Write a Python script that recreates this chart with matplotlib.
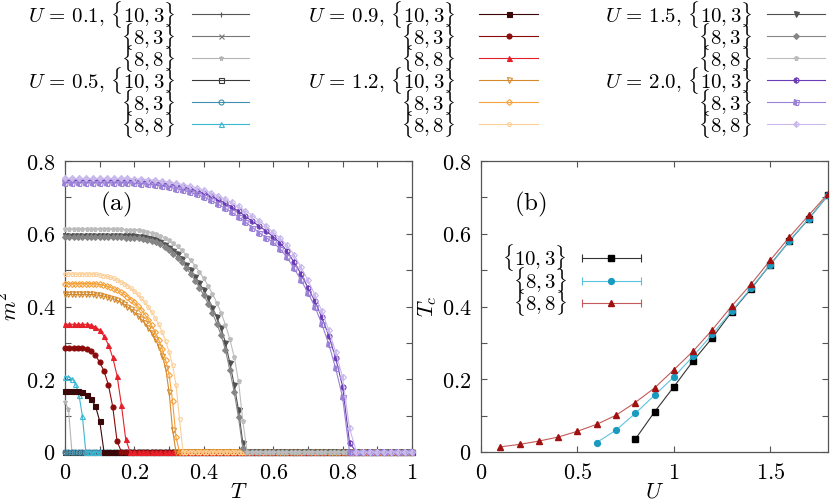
import numpy as np
import matplotlib
matplotlib.use("Agg")
import matplotlib.pyplot as plt
from matplotlib.lines import Line2D
from matplotlib.ticker import MultipleLocator, FuncFormatter

plt.rcParams["mathtext.fontset"] = "cm"
plt.rcParams["font.family"] = "serif"
plt.rcParams["font.serif"] = ["DejaVu Serif"]

# =========================
# Panel (a): m^2 vs T
# non-zero head of every curve, the rest is m^2 = 0 up to T = 1
# =========================
t_step_u01 = 0.01
t_step_u05 = 0.01
t_step_u09 = 0.0125
t_step_u12 = 0.01
t_step_u15 = 0.0125
t_step_u20 = 0.02

m2_u01_103 = []
m2_u01_83 = []
m2_u01_88 = [0.138, 0.117]

m2_u05_103 = []
m2_u05_83 = []
m2_u05_88 = [0.207, 0.206, 0.202, 0.188, 0.158, 0.100]

m2_u09_103 = [0.168, 0.168, 0.168, 0.167, 0.165, 0.157, 0.145, 0.127, 0.085]
m2_u09_83 = [0.285] * 5 + [0.283, 0.277, 0.266, 0.247, 0.222, 0.185, 0.125, 0.030]
m2_u09_88 = [0.351] * 6 + [0.349, 0.344, 0.335, 0.318, 0.295, 0.260, 0.210, 0.130, 0.035]

m2_u12_103 = [0.433] * 9 + [0.432, 0.431, 0.429, 0.427, 0.424, 0.421, 0.417, 0.412, 0.406,
                            0.399, 0.392, 0.384, 0.375, 0.365, 0.354, 0.341, 0.327, 0.311,
                            0.290, 0.265, 0.230, 0.165, 0.060]
m2_u12_83 = [0.463] * 9 + [0.462, 0.461, 0.459, 0.456, 0.453, 0.449, 0.445, 0.440, 0.434,
                           0.427, 0.419, 0.411, 0.401, 0.390, 0.378, 0.364, 0.348, 0.330,
                           0.309, 0.284, 0.253, 0.212, 0.140, 0.040]
m2_u12_88 = [0.489] * 9 + [0.488, 0.487, 0.485, 0.483, 0.480, 0.477, 0.473, 0.468, 0.463,
                           0.457, 0.450, 0.442, 0.433, 0.423, 0.412, 0.399, 0.385, 0.369,
                           0.351, 0.330, 0.305, 0.275, 0.238, 0.185, 0.090]

m2_u15_103 = [0.595] * 14 + [0.594, 0.594, 0.593, 0.592, 0.590, 0.588, 0.585, 0.582, 0.577,
                             0.570, 0.562, 0.553, 0.543, 0.530, 0.515, 0.499, 0.482, 0.464,
                             0.445, 0.422, 0.397, 0.370, 0.340, 0.300, 0.245, 0.185, 0.115,
                             0.025]
m2_u15_83 = [0.590] * 14 + [0.589, 0.589, 0.588, 0.587, 0.585, 0.583, 0.580, 0.576, 0.571,
                            0.564, 0.555, 0.545, 0.534, 0.521, 0.506, 0.489, 0.471, 0.452,
                            0.431, 0.408, 0.382, 0.353, 0.321, 0.280, 0.225, 0.165, 0.095,
                            0.010]
m2_u15_88 = [0.612] * 14 + [0.611, 0.611, 0.610, 0.609, 0.607, 0.605, 0.602, 0.599, 0.595,
                            0.589, 0.582, 0.574, 0.565, 0.554, 0.541, 0.527, 0.512, 0.495,
                            0.477, 0.457, 0.435, 0.410, 0.382, 0.350, 0.310, 0.262, 0.195,
                            0.085]

m2_u20_103 = [0.747] * 10 + [0.746, 0.745, 0.743, 0.741, 0.739, 0.736, 0.733, 0.729, 0.724,
                             0.718, 0.712, 0.704, 0.695, 0.685, 0.674, 0.662, 0.648, 0.634,
                             0.621, 0.607, 0.592, 0.575, 0.552, 0.522, 0.490, 0.452, 0.415,
                             0.370, 0.320, 0.258, 0.180, 0.025]
m2_u20_83 = [0.740] * 10 + [0.739, 0.738, 0.736, 0.734, 0.731, 0.728, 0.724, 0.720, 0.714,
                            0.708, 0.701, 0.692, 0.682, 0.671, 0.659, 0.646, 0.632, 0.617,
                            0.603, 0.589, 0.576, 0.558, 0.535, 0.505, 0.473, 0.438, 0.400,
                            0.352, 0.297, 0.230, 0.150]
m2_u20_88 = [0.752] * 10 + [0.751, 0.750, 0.749, 0.747, 0.745, 0.742, 0.739, 0.735, 0.731,
                            0.726, 0.720, 0.713, 0.705, 0.696, 0.686, 0.675, 0.663, 0.650,
                            0.636, 0.621, 0.604, 0.588, 0.568, 0.542, 0.508, 0.473, 0.432,
                            0.388, 0.335, 0.275, 0.205, 0.065]

# =========================
# Panel (b): Tc vs U
# =========================
u_103 = [0.8, 0.9, 1.0, 1.1, 1.2, 1.3, 1.4, 1.5, 1.6, 1.7, 1.8]
tc_103 = [0.035, 0.110, 0.179, 0.250, 0.314, 0.385, 0.448, 0.515, 0.580, 0.641, 0.706]
u_83 = [0.6, 0.7, 0.8, 0.9, 1.0, 1.1, 1.2, 1.3, 1.4, 1.5, 1.6, 1.7, 1.8]
tc_83 = [0.026, 0.060, 0.106, 0.156, 0.206, 0.263, 0.324, 0.387, 0.450, 0.515, 0.580, 0.641, 0.706]
u_88 = [0.1, 0.2, 0.3, 0.4, 0.5, 0.6, 0.7, 0.8, 0.9, 1.0, 1.1, 1.2, 1.3, 1.4, 1.5, 1.6, 1.7, 1.8]
tc_88 = [0.014, 0.021, 0.030, 0.041, 0.057, 0.076, 0.101, 0.136, 0.176, 0.226, 0.277, 0.336,
         0.401, 0.461, 0.527, 0.591, 0.651, 0.710]

u_labels = ["0.1", "0.5", "0.9", "1.2", "1.5", "2.0"]
lattices = [r"\{10,3\}", r"\{8,3\}", r"\{8,8\}"]

# (step, data, color, marker, fill) per U / lattice
curves_a = [
    (t_step_u01, m2_u01_103, "#555555", "+", "full"),
    (t_step_u01, m2_u01_83, "#777777", "x", "full"),
    (t_step_u01, m2_u01_88, "#b5b5b5", "*", "full"),
    (t_step_u05, m2_u05_103, "#3a3a3a", "s", "none"),
    (t_step_u05, m2_u05_83, "#3f8fae", "o", "none"),
    (t_step_u05, m2_u05_88, "#3cb7d2", "^", "none"),
    (t_step_u09, m2_u09_103, "#3a0808", "s", "full"),
    (t_step_u09, m2_u09_83, "#8b0a0a", "o", "full"),
    (t_step_u09, m2_u09_88, "#e6202a", "^", "full"),
    (t_step_u12, m2_u12_103, "#d48a2c", "v", "none"),
    (t_step_u12, m2_u12_83, "#f5a23a", "D", "none"),
    (t_step_u12, m2_u12_88, "#fccf98", "p", "none"),
    (t_step_u15, m2_u15_103, "#505050", "v", "full"),
    (t_step_u15, m2_u15_83, "#858585", "D", "full"),
    (t_step_u15, m2_u15_88, "#bcbcbc", "p", "full"),
    (t_step_u20, m2_u20_103, "#6a3cb4", "o", "left"),
    (t_step_u20, m2_u20_83, "#9b80d8", "s", "left"),
    (t_step_u20, m2_u20_88, "#c9b9ec", "D", "left"),
]

FS = 16
FS_LEG = 15
SPINE = "#555555"


def mfmt(v, pos):
    return r"$%g$" % round(v, 3)


def style_axes(ax):
    for s in ax.spines.values():
        s.set_color(SPINE)
        s.set_linewidth(0.9)
    ax.tick_params(which="both", direction="in", top=True, right=True,
                   color=SPINE, width=0.8, labelsize=FS)
    ax.tick_params(axis="x", pad=7)
    ax.tick_params(axis="y", pad=7)
    ax.tick_params(which="major", length=4)
    ax.tick_params(which="minor", length=4)
    ax.xaxis.set_major_formatter(FuncFormatter(mfmt))
    ax.yaxis.set_major_formatter(FuncFormatter(mfmt))


def marker_kw(color, marker, fill, ms):
    kw = dict(color=color, marker=marker, markersize=ms, markeredgewidth=0.8)
    if fill == "none":
        kw["markerfacecolor"] = "none"
    elif fill == "left":
        kw["fillstyle"] = "left"
        kw["markerfacecoloralt"] = "none"
    return kw


fig = plt.figure(figsize=(8.3, 5.04), dpi=100)
ax_a = fig.add_axes([65 / 830, 1 - 452 / 504, 347 / 830, 291 / 504])
ax_b = fig.add_axes([481 / 830, 1 - 452 / 504, 347 / 830, 291 / 504])

# ---- panel (a)
for step, vals, color, marker, fill in curves_a:
    t = np.arange(0, 1 + step / 2, step)
    m2 = np.zeros_like(t)
    m2[:len(vals)] = vals
    ms = 3.0 if marker == "D" else 3.6
    ax_a.plot(t, m2, lw=0.8, clip_on=False, zorder=3, **marker_kw(color, marker, fill, ms))

ax_a.set_xlim(0, 1)
ax_a.set_ylim(0, 0.8)
ax_a.xaxis.set_major_locator(MultipleLocator(0.2))
ax_a.xaxis.set_minor_locator(MultipleLocator(0.1))
ax_a.yaxis.set_major_locator(MultipleLocator(0.2))
ax_a.yaxis.set_minor_locator(MultipleLocator(0.1))
style_axes(ax_a)
ax_a.set_xlabel(r"$T$", fontsize=FS, labelpad=-2)
ax_a.set_ylabel(r"$m^2$", fontsize=FS, labelpad=2)
ax_a.text(0.147, 0.68, r"$\mathrm{(a)}$", fontsize=18, ha="center", va="center")

# ---- panel (b)
ax_b.plot(u_103, tc_103, color="#333333", lw=0.8, marker="s", ms=4.2,
          mfc="black", mec="black", zorder=3)
ax_b.plot(u_83, tc_83, color="#5cc3df", lw=0.8, marker="o", ms=4.2,
          mfc="#1b9ac0", mec="#1b9ac0", zorder=3)
ax_b.plot(u_88, tc_88, color="#c25a5a", lw=0.8, marker="^", ms=4.2,
          mfc="#a01010", mec="#a01010", zorder=4)
ax_b.set_xlim(0, 1.8)
ax_b.set_ylim(0, 0.8)
ax_b.xaxis.set_major_locator(MultipleLocator(0.5))
ax_b.yaxis.set_major_locator(MultipleLocator(0.2))
ax_b.yaxis.set_minor_locator(MultipleLocator(0.1))
style_axes(ax_b)
ax_b.set_xlabel(r"$U$", fontsize=FS, labelpad=-2)
ax_b.set_ylabel(r"$T_c$", fontsize=FS, labelpad=2)
ax_b.text(0.255, 0.68, r"$\mathrm{(b)}$", fontsize=18, ha="center", va="center")

# legend of panel (b), errorbar style keys
leg_b = [("#333333", "black", "s"), ("#5cc3df", "#1b9ac0", "o"), ("#c25a5a", "#a01010", "^")]
for k, (lc, mc, mk) in enumerate(leg_b):
    y = 1 - (258 + 22.5 * k) / 504
    fig.text(567 / 830, y, r"$%s$" % lattices[k], fontsize=FS_LEG, ha="right", va="center")
    fig.add_artist(Line2D([582 / 830, 641 / 830], [y, y], color=lc, lw=0.8,
                          marker="|", ms=6, mew=0.8))
    fig.add_artist(Line2D([611 / 830], [y], color=mc, marker=mk, ms=4.2, lw=0))

# ---- top legend, three columns
col_text_x = [175, 455, 752]
col_line_x = [(192, 249), (479, 538), (767, 825)]
row_y = [14, 36, 58, 80, 102, 124]
for i, (step, vals, color, marker, fill) in enumerate(curves_a):
    col = i // 6
    row = i % 6
    ui = i // 3
    li = i % 3
    y = 1 - row_y[row] / 504
    if li == 0:
        label = r"$U\,=\,%s,\,%s$" % (u_labels[ui], lattices[li])
    else:
        label = r"$%s$" % lattices[li]
    fig.text(col_text_x[col] / 830, y, label, fontsize=FS_LEG, ha="right", va="center")
    x0, x1 = col_line_x[col]
    fig.add_artist(Line2D([x0 / 830, x1 / 830], [y, y], color=color, lw=0.8))
    ms = 3.0 if marker == "D" else 3.6
    fig.add_artist(Line2D([(x0 + x1) / 2 / 830], [y], lw=0,
                          **marker_kw(color, marker, fill, ms)))

fig.savefig("out.png", dpi=100)
